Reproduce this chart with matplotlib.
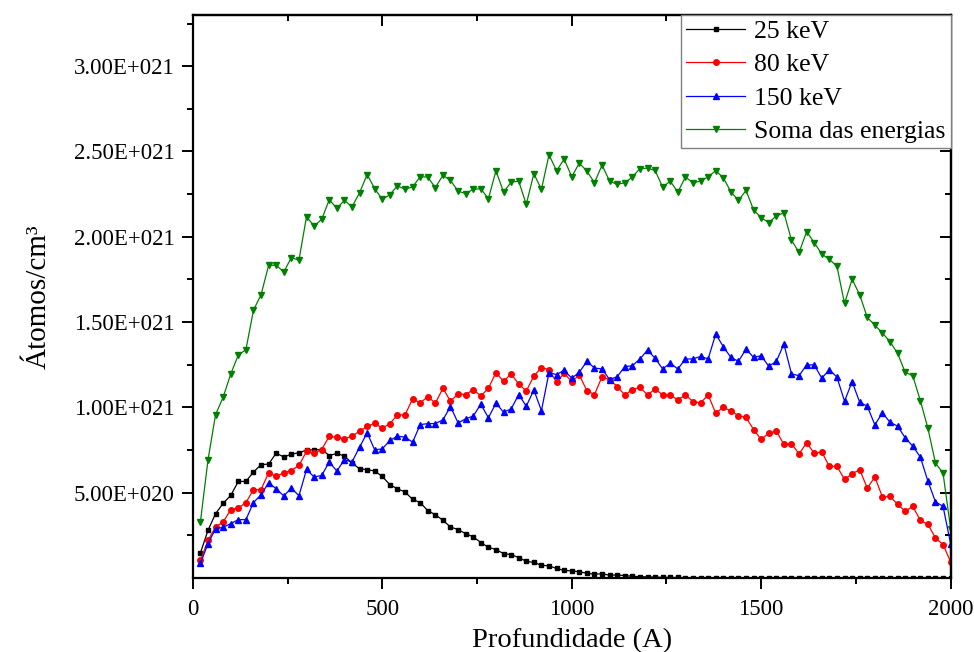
""" Perfil de implantacao: atomos/cm3 em funcao da profundidade """

import matplotlib
matplotlib.use('Agg')
import matplotlib.pyplot as plt
from matplotlib.ticker import FixedLocator, FuncFormatter
import numpy as np

# profundidade (A), passo de 20
depth = np.arange(20, 2001, 20)

# valores em unidades de 1E+020 atomos/cm3
e25 = [1.47, 2.8, 3.77, 4.38, 4.84, 5.66, 5.66, 6.21, 6.64, 6.68, 7.32, 7.09, 7.26, 7.34, 7.5, 7.51, 7.53,
       7.18, 7.3, 7.15, 6.74, 6.4, 6.35, 6.27, 5.95, 5.47, 5.23, 5.04, 4.61, 4.42, 3.95, 3.71, 3.38,
       2.99, 2.84, 2.6, 2.41, 2.08, 1.8, 1.67, 1.43, 1.37, 1.2, 0.98, 0.91, 0.75, 0.71, 0.56, 0.44, 0.42,
       0.36, 0.28, 0.22, 0.25, 0.16, 0.18, 0.14, 0.1, 0.08, 0.06, 0.05, 0.04, 0.03, 0.03, 0.02, 0.02,
       0.02, 0.01, 0.01, 0.01, 0.01, 0.01, 0.0, 0.0, 0.0, 0.0, 0.0, 0.0, 0.0, 0.0, 0.0, 0.0, 0.0,
       0.0, 0.0, 0.0, 0.0, 0.0, 0.0, 0.0, 0.0, 0.0, 0.0, 0.0, 0.0, 0.0, 0.0, 0.0, 0.0, 0.0]
e80 = [1.04, 2.21, 2.99, 3.29, 4.0, 4.1, 4.42, 5.18, 5.18, 6.17, 5.95, 6.17, 6.3, 6.6, 7.42, 7.32, 7.53,
       8.31, 8.24, 8.16, 8.31, 8.61, 8.88, 9.07, 8.78, 9.05, 9.56, 9.56, 10.5, 10.26, 10.63, 10.25, 11.12,
       10.36, 10.79, 10.75, 11.04, 10.67, 11.12, 12.04, 11.53, 11.96, 11.37, 10.96, 11.84, 12.33, 12.21,
       11.47, 12.0, 11.51, 11.9, 10.98, 10.75, 11.8, 11.63, 11.22, 10.73, 11.04, 11.18, 10.73, 11.08,
       10.73, 10.73, 10.44, 10.73, 10.34,
       10.26, 10.73, 9.66, 10.01, 9.78, 9.52, 9.41, 8.7, 8.12, 8.49, 8.61, 7.83, 7.87, 7.28, 7.92, 7.32,
       7.38, 6.54, 6.54, 5.78, 6.11, 6.35, 5.27, 5.92, 4.75, 4.78, 4.32, 3.91, 4.2, 3.38, 3.15, 2.35,
       1.96, 0.95]
e150 = [0.85, 2.02, 2.89, 2.97, 3.19, 3.42, 3.42, 4.42, 4.88, 5.58, 5.23, 4.81, 5.27, 4.82, 6.36, 5.92,
        6.01, 6.8, 6.27, 6.93, 6.8, 7.67, 8.51, 7.51, 7.57, 8.06, 8.31, 8.26, 7.96, 8.99, 9.05, 9.05, 9.27,
        10.05, 9.09, 9.33, 9.49, 10.19, 9.39, 10.25, 9.72, 9.91, 10.75, 10.07, 11.02, 9.81, 12.04, 11.92,
        12.18, 11.71, 12.06, 12.7, 12.31, 12.25, 11.63, 11.8, 12.39, 12.44, 12.84, 13.36, 12.88, 12.25,
        12.6, 12.25, 12.84, 12.84,
        12.99, 12.84, 14.3, 13.56, 12.93, 12.7, 13.42, 12.93, 13.03, 12.41, 12.7, 13.71, 11.96, 11.86,
        12.49, 12.49, 11.71, 12.21, 11.77, 10.36, 11.51, 10.3, 10.07, 8.98, 9.68, 9.13, 8.9, 8.22, 7.73,
        7.09, 5.68, 4.46, 4.2, 2.0]
soma = [3.29, 6.93, 9.58, 10.6, 11.96, 13.07, 13.38, 15.7, 16.6, 18.33, 18.33, 17.94, 18.78, 18.63, 21.18,
        20.63, 21.02, 22.17, 21.67, 22.13, 21.76, 22.58, 23.65, 22.82, 22.19, 22.47, 22.99, 22.78, 22.93,
        23.52, 23.5, 22.88, 23.61,
        23.3, 22.68, 22.53, 22.78, 22.82, 22.23, 23.87, 22.62, 23.2, 23.26, 21.9, 23.7, 22.78, 24.8, 23.87,
        24.55, 23.52, 24.32, 23.85, 23.17, 24.2, 23.26, 23.07, 23.17, 23.5, 24.0, 24.02, 23.89, 22.91,
        23.26, 22.62, 23.5, 23.17,
        23.26, 23.52, 23.87, 23.46, 22.64, 22.13, 22.72, 21.57, 21.12, 20.83, 21.22, 21.41, 19.8, 19.08,
        20.3, 19.66, 18.98, 18.68, 18.26, 16.09, 17.51, 16.6, 15.27, 14.82, 14.36, 13.85, 13.17, 12.06,
        11.86, 10.4, 8.78, 6.74, 6.15, 2.89]

labels = ['25 keV', '80 keV', '150 keV', 'Soma das energias']
y_major = [5e20, 1e21, 1.5e21, 2e21, 2.5e21, 3e21]
y_minor = [2.5e20, 7.5e20, 1.25e21, 1.75e21, 2.25e21, 2.75e21, 3.25e21]

''' formato estilo Origin: 5.00E+020 '''
def origin_fmt(v, pos):
    if v == 0:
        return '0'
    e = int(np.floor(np.log10(abs(v))))
    return '%.2fE+%03d' % (v / 10**e, e)

plt.rcParams['font.family'] = ['Liberation Serif', 'DejaVu Serif']

fig = plt.figure(figsize=(9.74, 6.52), dpi=100)
ax = fig.add_axes([0.198, 0.1135, 0.778, 0.8635])

scale = 1e20
ax.plot(depth, np.array(e25) * scale, '-s', color='black', lw=0.9, ms=3.5, label=labels[0])
ax.plot(depth, np.array(e80) * scale, '-o', color='red', lw=0.9, ms=4, label=labels[1])
ax.plot(depth, np.array(e150) * scale, '-^', color='blue', lw=0.9, ms=4.5, label=labels[2])
ax.plot(depth, np.array(soma) * scale, '-v', color='green', lw=0.9, ms=4.5, label=labels[3])

ax.set_xlim(0, 2000)
ax.set_ylim(0, 3.3e21)
ax.set_xticks([0, 500, 1000, 1500, 2000])
ax.xaxis.set_minor_locator(FixedLocator([250, 750, 1250, 1750]))
ax.yaxis.set_major_locator(FixedLocator(y_major))
ax.yaxis.set_minor_locator(FixedLocator(y_minor))
ax.yaxis.set_major_formatter(FuncFormatter(origin_fmt))

for s in ax.spines.values():
    s.set_linewidth(1.6)

# fora na esquerda/baixo, dentro em cima/direita
ax.tick_params(which='both', direction='out', width=1.4, labelsize=16.5, top=False, right=False)
ax.tick_params(which='major', length=8)
ax.tick_params(which='minor', length=4.5)
ax.tick_params(axis='x', pad=7)
ax.tick_params(axis='y', pad=5)

sec_x = ax.secondary_xaxis('top')
sec_x.set_xticks([0, 500, 1000, 1500, 2000])
sec_x.xaxis.set_minor_locator(FixedLocator([250, 750, 1250, 1750]))
sec_x.tick_params(which='both', direction='in', width=1.4, labeltop=False)
sec_x.tick_params(which='major', length=8)
sec_x.tick_params(which='minor', length=4.5)
sec_x.spines['top'].set_linewidth(1.6)

sec_y = ax.secondary_yaxis('right')
sec_y.yaxis.set_major_locator(FixedLocator(y_major))
sec_y.yaxis.set_minor_locator(FixedLocator(y_minor))
sec_y.tick_params(which='both', direction='in', width=1.4, labelright=False)
sec_y.tick_params(which='major', length=8)
sec_y.tick_params(which='minor', length=4.5)
sec_y.spines['right'].set_linewidth(1.6)

ax.set_xlabel('Profundidade (A)', fontsize=20.5, labelpad=6)
ax.set_ylabel('Átomos/cm³', fontsize=21, labelpad=16)

leg = ax.legend(loc='upper right', fontsize=18.5, borderaxespad=0, fancybox=False,
                framealpha=1, edgecolor='0.5', borderpad=0.2, labelspacing=0.4,
                handlelength=2.3, handletextpad=0.35, numpoints=1)
leg.get_frame().set_linewidth(1.0)

fig.savefig('out.png', dpi=100)
